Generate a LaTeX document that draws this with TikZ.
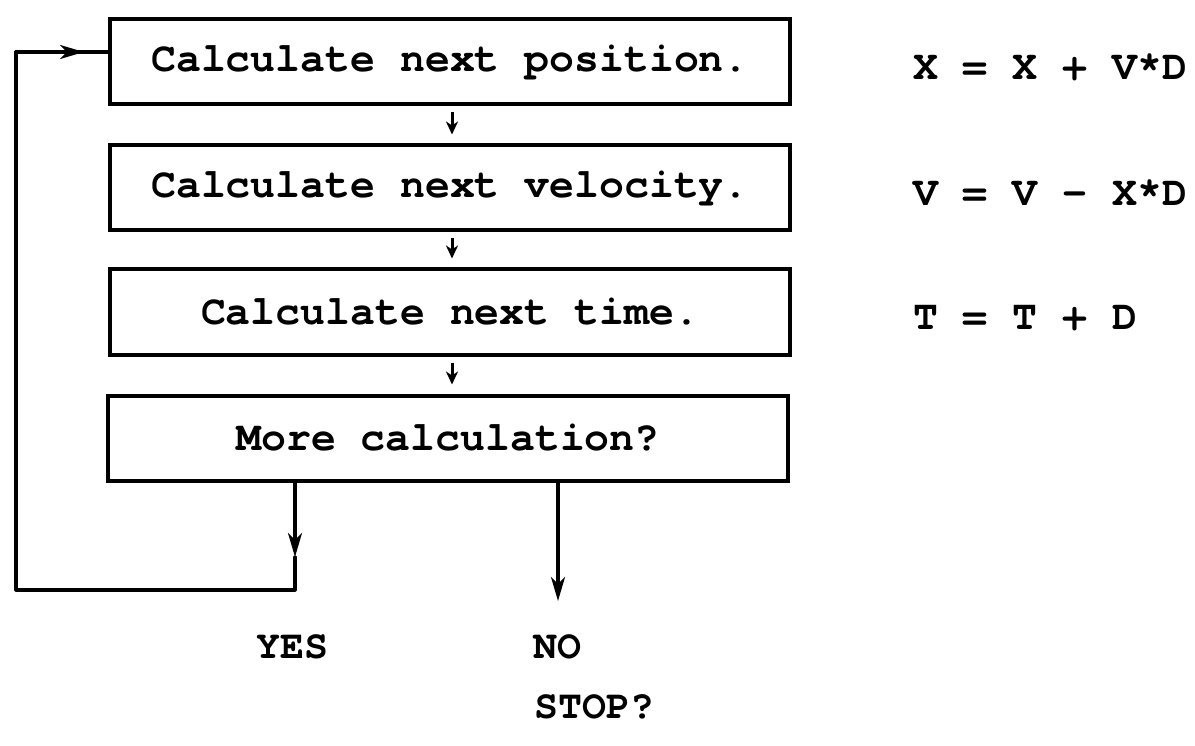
\documentclass[tikz,border=0pt]{standalone}
\usepackage{fontspec}
\newfontfamily\tw{texgyrecursor}[Extension=.otf, UprightFont=*-regular, BoldFont=*-bold]
\usetikzlibrary{arrows.meta}
\begin{document}
\begin{tikzpicture}[x=1pt,y=-1pt,
  stepbox/.style={draw, line width=4pt, minimum width=680pt, minimum height=85pt, inner sep=0pt,
    font=\tw\bfseries\fontsize{41.5}{41.5}\selectfont},
  eq/.style={anchor=west, inner sep=0pt, font=\tw\bfseries\fontsize{41.5}{41.5}\selectfont},
  lbl/.style={inner sep=0pt, font=\tw\bfseries\fontsize{40}{40}\selectfont},
  conn/.style={line width=3.2pt, line cap=round, line join=round},
  tip/.style={-{Stealth[length=24pt,width=14pt,inset=7pt]}},
  smalltip/.style={-{Stealth[length=13pt,width=12pt,inset=4pt]}, line width=3pt}
]
\useasboundingbox (0,0) rectangle (1195,746);
\node[stepbox] (b1) at (450,62) {Calculate next position.};
\node[stepbox] (b2) at (450,188) {Calculate next velocity.};
\node[stepbox] (b3) at (450,312) {Calculate next time.};
\node[stepbox] (b4) at (448,438) {More calculation?};

\node[eq] (e1) at (913,67) {X = X + V*D};
\node[eq] (e2) at (913,193) {V = V - X*D};
\node[eq] (e3) at (913,318) {T = T + D};

\node[lbl] (yes) at (292,647) {YES};
\node[lbl] (no) at (557,647) {NO};
\node[lbl] (stop) at (594,707) {STOP?};

\coordinate (ax) at (452,0);
\draw[smalltip] ([yshift=-6pt]b1.south -| ax) -- ([yshift=9pt]b2.north -| ax);
\draw[smalltip] ([yshift=-6pt]b2.south -| ax) -- ([yshift=9pt]b3.north -| ax);
\draw[smalltip] ([yshift=-6pt]b3.south -| ax) -- ([yshift=9pt]b4.north -| ax);

\coordinate (yx) at (295,0);
\coordinate (ymid) at (295,557);
\coordinate (ycorner) at (295,590);
\coordinate (lcorner) at (16,590);
\coordinate (ltop) at (16,52);
\coordinate (lmid) at (84,52);
\draw[conn,tip] (b4.south -| yx) -- (ymid);
\draw[conn] (ymid) -- (ycorner) -- (lcorner) -- (ltop) -- (lmid);
\draw[conn,tip] (ltop) -- (lmid);
\draw[conn] (lmid) -- (b1.west |- lmid);

\coordinate (nx) at (558,0);
\coordinate (nend) at (558,601);
\draw[conn,tip] (b4.south -| nx) -- (nend);
\end{tikzpicture}
\end{document}
